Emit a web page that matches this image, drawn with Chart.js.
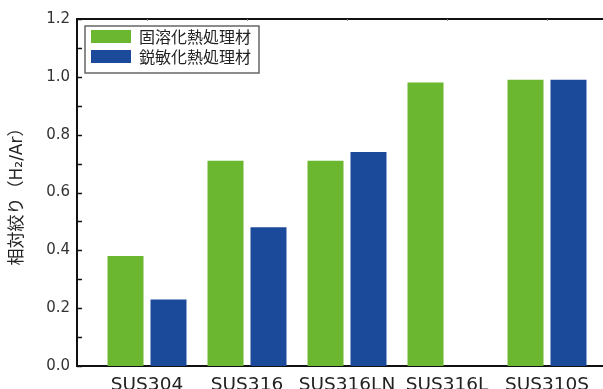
<!DOCTYPE html>
<html>
<head>
<meta charset="utf-8">
<script src="https://cdn.jsdelivr.net/npm/chart.js@4.4.1/dist/chart.umd.min.js"></script>
<style>
    html, body { margin: 0; padding: 0; background: #fff; overflow: hidden; }
    #wrap { width: 603px; height: 389px; position: relative; }
</style>
</head>
<body>
<div id="wrap"><canvas id="chart"></canvas></div>
<script>
/* ─── data ─── */
const categories = ['SUS304', 'SUS316', 'SUS316LN', 'SUS316L', 'SUS310S'];
const seriesNames = ['固溶化熱処理材', '鋭敏化熱処理材'];
const solutionTreated = [0.38, 0.71, 0.71, 0.98, 0.99];
const sensitized = [0.23, 0.48, 0.74, null, 0.99];
const yMajorTicks = [0.0, 0.2, 0.4, 0.6, 0.8, 1.0, 1.2];
const yTitle = '相対絞り（H₂/Ar）';

const colors = ['#6bb72f', '#1b4a9b'];
const numFont = "'DejaVu Sans', 'Noto Sans CJK JP', sans-serif";
const jpFont = "'Noto Sans CJK JP', 'DejaVu Sans', sans-serif";

/* ─── plugins: inward ticks + boxed legend ─── */
const frameTicks = {
    id: 'frameTicks',
    afterDatasetsDraw(chart) {
        const {ctx, chartArea, scales} = chart;
        ctx.save();
        ctx.strokeStyle = '#111';
        ctx.lineWidth = 1.5;
        scales.y.ticks.forEach(t => {
            const y = Math.round(scales.y.getPixelForValue(t.value)) + 0.5;
            ctx.beginPath();
            ctx.moveTo(chartArea.left, y);
            ctx.lineTo(chartArea.left + 5, y);
            ctx.stroke();
        });
        ctx.strokeStyle = '#888';
        ctx.lineWidth = 1;
        categories.forEach((c, i) => {
            const x = Math.round(scales.x.getPixelForValue(i)) + 0.5;
            ctx.beginPath();
            ctx.moveTo(x, chartArea.top);
            ctx.lineTo(x, chartArea.top + 2);
            ctx.stroke();
        });
        ctx.restore();
    }
};

const boxLegend = {
    id: 'boxLegend',
    afterDraw(chart) {
        const {ctx, chartArea} = chart;
        const x0 = chartArea.left + 8, y0 = chartArea.top + 7;
        ctx.save();
        ctx.font = '16px ' + jpFont;
        const tw = Math.max(...chart.data.datasets.map(d => ctx.measureText(d.label).width));
        const w = 54 + tw + 8, h = 47;
        ctx.fillStyle = '#fff';
        ctx.fillRect(x0, y0, w, h);
        ctx.strokeStyle = '#666';
        ctx.lineWidth = 1.5;
        ctx.strokeRect(x0, y0, w, h);
        chart.data.datasets.forEach((d, i) => {
            const yy = y0 + 4 + i * 20;
            ctx.fillStyle = d.backgroundColor;
            ctx.fillRect(x0 + 6, yy, 40, 13);
            ctx.fillStyle = '#222';
            ctx.textBaseline = 'middle';
            ctx.fillText(d.label, x0 + 54, yy + 7);
        });
        ctx.restore();
    }
};

/* ─── chart ─── */
const ctx = document.getElementById('chart');
new Chart(ctx, {
    type: 'bar',
    data: {
        datasets: [
            {
                label: seriesNames[0],
                data: solutionTreated.map((v, i) => ({x: i, y: v})),
                backgroundColor: colors[0],
                borderWidth: 0,
            },
            {
                label: seriesNames[1],
                data: sensitized.map((v, i) => ({x: i, y: v})),
                backgroundColor: colors[1],
                borderWidth: 0,
            }
        ]
    },
    options: {
        responsive: true,
        maintainAspectRatio: false,
        animation: false,
        categoryPercentage: 0.86,
        barPercentage: 0.837,
        layout: {padding: {top: 19, left: 0, right: 0, bottom: 0}},
        plugins: {legend: {display: false}, tooltip: {enabled: false}},
        scales: {
            x: {
                type: 'linear',
                position: 'bottom',
                min: -0.7,
                max: 4.56,
                offset: false,
                afterBuildTicks: s => { s.ticks = categories.map((c, i) => ({value: i})); },
                afterFit: s => { s.height = 23; },
                ticks: {
                    autoSkip: false,
                    maxRotation: 0,
                    padding: 8,
                    color: '#222',
                    font: {family: numFont, size: 18.5},
                    callback: v => categories[v],
                },
                grid: {display: false, drawTicks: false},
                border: {display: true, color: '#111', width: 2},
            },
            x2: {
                type: 'linear',
                position: 'top',
                min: -0.7,
                max: 4.56,
                offset: false,
                afterFit: s => { s.height = 0; },
                ticks: {display: false},
                grid: {display: false, drawTicks: false},
                border: {display: true, color: '#111', width: 2},
            },
            y: {
                min: 0,
                max: 1.2,
                afterFit: s => { s.width = 77; },
                ticks: {
                    stepSize: 0.1,
                    padding: 7,
                    color: '#333',
                    font: {family: numFont, size: 15},
                    callback: v => yMajorTicks.some(m => Math.abs(m - v) < 1e-6) ? v.toFixed(1) : '',
                },
                grid: {display: false, drawTicks: false},
                border: {display: true, color: '#111', width: 2},
                title: {
                    display: true,
                    text: yTitle,
                    color: '#222',
                    font: {family: numFont, size: 17},
                    padding: {top: 7, bottom: 0},
                }
            }
        }
    },
    plugins: [frameTicks, boxLegend]
});
</script>
</body>
</html>
